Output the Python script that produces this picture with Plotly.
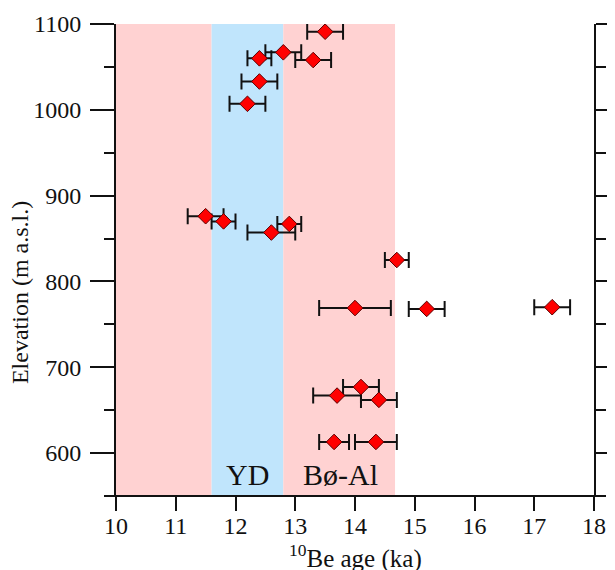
import plotly.graph_objects as go

# Data
age_ka = [13.5, 12.8, 13.3, 12.4, 12.4, 12.2, 11.5, 11.8, 12.9, 12.6, 14.7,
          14.0, 15.2, 17.3, 14.1, 13.7, 14.4, 13.65, 14.35]
elevation = [1091, 1067, 1058, 1060, 1033, 1007, 876, 870, 867, 857, 825,
             769, 768, 770, 677, 667, 662, 613, 613]
age_err = [0.3, 0.3, 0.3, 0.2, 0.3, 0.3, 0.3, 0.2, 0.2, 0.4, 0.2,
           0.6, 0.3, 0.3, 0.3, 0.4, 0.3, 0.25, 0.35]

# Shaded periods (ka)
periods = [(10.0, 11.6, "#FFD2D2"), (11.6, 12.8, "#C0E5FC"), (12.8, 14.67, "#FFD2D2")]
period_labels = ["YD", "Bø-Al"]
period_label_x = [12.2, 13.75]
period_label_y = 575

x_ticks = list(range(10, 19))
y_ticks = [600, 700, 800, 900, 1000, 1100]

x_title = "<sup>10</sup>Be age (ka)"
y_title = "Elevation (m a.s.l.)"

FONT = "Liberation Serif"
INK = "#111111"

fig = go.Figure()

fig.add_trace(go.Scatter(
    x=age_ka, y=elevation, mode="markers",
    marker=dict(symbol="diamond", size=12, color="#FF0000",
                line=dict(color="#5a0000", width=1)),
    error_x=dict(type="data", array=age_err, visible=True,
                 color=INK, thickness=2, width=8),
    showlegend=False,
))

shapes = []
for x0, x1, c in periods:
    shapes.append(dict(type="rect", xref="x", yref="y", x0=x0, x1=x1,
                       y0=550, y1=1100, fillcolor=c, line=dict(width=0),
                       layer="below"))
# bottom axis line extending slightly beyond the plot area
shapes.append(dict(type="line", xref="paper", yref="paper", x0=-0.023, x1=1.025,
                   y0=0, y1=0, line=dict(color=INK, width=2)))

annotations = []
for lbl, lx in zip(period_labels, period_label_x):
    annotations.append(dict(x=lx, y=period_label_y, xref="x", yref="y", text=lbl,
                            showarrow=False, font=dict(family=FONT, size=30, color=INK),
                            xanchor="center", yanchor="middle"))
# axis titles
annotations.append(dict(x=0.5, y=0, xref="paper", yref="paper", text=x_title,
                        showarrow=False, font=dict(family=FONT, size=25, color=INK),
                        xanchor="center", yanchor="middle", yshift=-60))
annotations.append(dict(x=0, y=0.43, xref="paper", yref="paper", text=y_title,
                        showarrow=False, font=dict(family=FONT, size=24, color=INK),
                        textangle=-90, xanchor="center", yanchor="middle", xshift=-96))

fig.update_layout(
    width=615, height=570,
    margin=dict(l=108, r=29, t=16, b=82),
    paper_bgcolor="white", plot_bgcolor="white",
    shapes=shapes, annotations=annotations,
    font=dict(family=FONT, color=INK),
    xaxis=dict(
        range=[10, 18], tickvals=x_ticks, ticktext=[str(t) for t in x_ticks],
        ticks="outside", ticklen=14, tickwidth=2, tickcolor=INK,
        showline=False, showgrid=False, zeroline=False, automargin=False,
        ticklabelstandoff=-6,
        tickfont=dict(family=FONT, size=24, color=INK),
    ),
    yaxis=dict(
        range=[550, 1100], tickvals=y_ticks, ticktext=[str(t) for t in y_ticks],
        ticks="outside", ticklen=24, tickwidth=2, tickcolor=INK,
        showline=True, linewidth=2, linecolor=INK, mirror="ticks",
        showgrid=False, zeroline=False, automargin=False,
        ticklabelstandoff=4,
        minor=dict(dtick=50, tick0=550, ticks="outside", ticklen=10, tickwidth=2,
                   tickcolor=INK, showgrid=False),
        tickfont=dict(family=FONT, size=24, color=INK),
    ),
)

fig.write_html("out.html")
